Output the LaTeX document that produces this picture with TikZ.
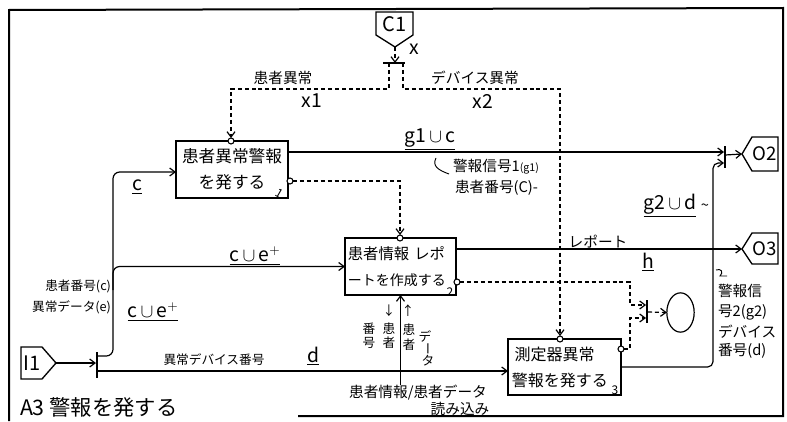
\documentclass[tikz,border=0pt]{standalone}
\usepackage{fontspec}
\setmainfont{Noto Sans CJK JP}
\usetikzlibrary{arrows.meta,shapes.geometric}
\begin{document}
\begin{tikzpicture}[x=0.75pt,y=-0.75pt,
  every node/.style={inner sep=0pt,outer sep=0pt},
  ln/.style={line width=0.9pt},
  dsh/.style={line width=0.9pt,dash pattern=on 3pt off 2.2pt},
  arr/.style={-{Straight Barb[length=4pt,width=6pt]}},
  box/.style={draw,line width=0.9pt},
  tun/.style={draw,circle,fill=white,minimum size=4.5pt,line width=0.8pt},
  pent/.style={line width=1pt},
  lab/.style={font=\fontsize{11}{13}\selectfont},
  slab/.style={font=\fontsize{9.5}{11}\selectfont},
  big/.style={font=\fontsize{14.5}{16}\selectfont},
  ioname/.style={font=\fontsize{15}{16}\selectfont},
  num/.style={font=\fontsize{9}{9}\selectfont}
]
\useasboundingbox (0,0) rectangle (787,421);

% frame
\draw[line width=1.5pt] (298,416) -- (783,416) -- (783,8) -- (9,10) -- (9,421);

% C1
\draw[pent,fill=white] (376,12) -- (413,12) -- (413,35) -- (395,47) -- (376,35) -- cycle;
\node[ioname] (C1) at (394.5,24) {C1};
\coordinate (c1tip) at (395,47);
\coordinate (bar3) at (395,63);
\draw[ln] (383,63) -- (405,63);
\draw[dsh,arr] (c1tip) -- (bar3);
\node[big] (xl) at (414,49) {x};
\node[lab] (l1) at (283,78) {患者異常};
\node[lab] (l2) at (475,78) {デバイス異常};
\node[big] (x1) at (312,101) {x1};
\node[big] (x2) at (483,101) {x2};

% boxes
\node[box,minimum width=84pt,minimum height=42.75pt,align=center,font=\fontsize{12.5}{19.5}\selectfont] (b1) at (232,169.5) {患者異常警報\\を発する};
\node[box,minimum width=83.25pt,minimum height=42.75pt,inner xsep=2pt,text width=79pt,align=left,font=\fontsize{11.5}{20}\selectfont] (b2) at (400.5,266.5) {患者情報 レポ\\{\fontsize{10.5}{20}\selectfont ートを作成する}};
\node[box,minimum width=84.75pt,minimum height=42pt,inner xsep=2.5pt,text width=79pt,align=left,font=\fontsize{12}{19.5}\selectfont] (b3) at (564.5,367) {\hspace{2pt}測定器異常\\警報を発する};
\node[num,rotate=-30] (n1) at (280,193) {1};
\node[num] (n2) at (450,292) {2};
\node[num] (n3) at (615,390) {3};

% tunnels / circles
\node[tun] (t1) at (231,141) {};
\node[tun] (t2) at (400,238) {};
\node[tun] (t3) at (560,339) {};
\node[tun] (o1) at (290,181) {};
\node[tun] (o2) at (457,282) {};
\node[tun] (o3) at (621,349) {};

% control branches
\draw[dsh,arr] (389,63) -- (389,89) -| (t1.north);
\draw[dsh,arr] (403,63) -- (403,89) -| (t3.north);
\draw[dsh,arr] (o1.east) -| (t2.north);

% outputs O2 / O3
\draw[pent] (742,154) -- (752,137) -- (778,137) -- (778,171) -- (752,171) -- cycle;
\node[font=\fontsize{14}{15}\selectfont] (O2) at (765,154) {O2};
\coordinate (o2tip) at (742,154);
\draw[pent] (742,249) -- (752,233) -- (778,233) -- (778,264) -- (752,264) -- cycle;
\node[font=\fontsize{14}{15}\selectfont] (O3) at (765,248.5) {O3};
\coordinate (o3tip) at (742,249);

\coordinate (br2u) at (724,152);
\coordinate (br2l) at (724,163);
\coordinate (br2m) at (725,155);
\draw[ln] (725,146) -- (725,168);
\draw[ln,arr] (b1.east |- br2u) -- (br2u);
\draw[ln,arr] (br2m) -- (o2tip);
\draw[ln,arr,rounded corners=4pt] (b3.east) -| (713,163) -- (br2l);
\draw[ln,arr] (b2.east |- o3tip) -- (o3tip);

% dashed to ellipse
\coordinate (br4u) at (646,305);
\coordinate (br4l) at (646,318);
\coordinate (br4m) at (648,312);
\draw[ln] (647,300) -- (647,323);
\draw[dsh,arr] (o2.east) -| (630,305) -- (br4u);
\draw[dsh,arr] (o3.east) -| (630,318) -- (br4l);
\node[draw,ellipse,line width=0.9pt,minimum width=20.5pt,minimum height=29.5pt] (ell) at (680.5,312.5) {};
\draw[dsh,arr] (br4m) -- (ell.west);

% I1 input
\draw[pent] (21,347) -- (42,347) -- (56,363) -- (42,379) -- (21,379) -- cycle;
\node[ioname] (I1) at (32,363) {I1};
\coordinate (i1tip) at (56,363);
\coordinate (br1m) at (96,363);
\coordinate (br1u) at (97,356);
\coordinate (br1l) at (97,371);
\coordinate (ya) at (0,172);
\draw[ln] (97,352) -- (97,378);
\draw[ln,arr] (i1tip) -- (br1m);
\draw[ln,arr,rounded corners=5pt] (br1u) -| (113,172) -- (b1.west |- ya);
\draw[ln,arr,rounded corners=5pt] (113,290) |- (b2.west);
\draw[ln,arr] (br1l) -- (b3.west |- br1l);

% data in from below
\node[lab,anchor=north] (rdl) at (418,385) {患者情報/患者データ};
\node[lab] (rdl2) at (460,409) {読み込み};
\draw[ln,arr] (rdl.north -| b2.south) -- (b2.south);

% flow labels
\node[big] (lc) at (137,187) {\underline{c}};
\node[big] (lce1) at (255,256) {\underline{c$\,\cup\,$e$^{+}$}};
\node[big] (lce2) at (153,312) {\underline{c$\,\cup\,$e$^{+}$}};
\node[big] (lg1) at (430,139) {\underline{g1$\,\cup\,$c}};
\node[big] (ld) at (313,356) {\underline{d}};
\node[big] (lh) at (648,262) {\underline{h}};
\node[big] (lg2) at (670,206) {\underline{g2$\,\cup\,$d}};
\node[lab] (tl) at (705,207) {\textasciitilde};
\node[lab] (lrep) at (598,242) {レポート};
\node[font=\fontsize{9.5}{11}\selectfont] (ldev) at (214,360) {異常デバイス番号};

% annotations
\draw[line width=0.7pt] (436,158) .. controls (432,166) and (438,170) .. (449,174);
\node[lab,anchor=west] (a1) at (453,167) {警報信号1{\fontsize{8}{8}\selectfont(g1)}};
\node[lab,anchor=west] (a2) at (455,188) {患者番号(C)-};
\draw[line width=0.7pt] (716,270) .. controls (721,268) and (724,272) .. (720,276) -- (727,276);
\node[lab,anchor=west] (r1) at (718,291) {警報信};
\node[lab,anchor=west] (r2) at (718,312) {号2(g2)};
\node[lab,anchor=west] (r3) at (718,332) {デバイス};
\node[lab,anchor=west] (r4) at (718,351) {番号(d)};
\node[slab,anchor=east] (la1) at (111,286) {患者番号(c)};
\node[slab,anchor=east] (la2) at (111,307) {異常データ(e)};

% vertical labels under box 2
\node[slab] (v1) at (389,311) {↓};
\node[slab] (v2) at (389,329) {患};
\node[slab] (v3) at (389,343) {者};
\node[slab] (v4) at (369,329) {番};
\node[slab] (v5) at (369,343) {号};
\node[slab] (v6) at (408,311) {↑};
\node[slab] (v7) at (409,330) {患};
\node[slab] (v8) at (409,345) {者};
\node[slab] (v9) at (425,336) {デ};
\node[slab,rotate=-90] (v10) at (426,349) {ー};
\node[slab] (v11) at (428,361) {タ};

% title
\node[font=\fontsize{16}{18}\selectfont,anchor=west] (title) at (20,407) {A3 警報を発する};
\end{tikzpicture}
\end{document}
